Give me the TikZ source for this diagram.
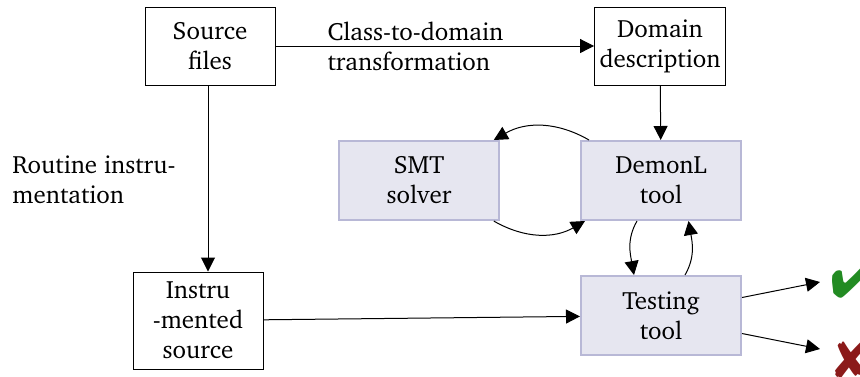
\documentclass[tikz,border=0pt]{standalone}
\usepackage[T1]{fontenc}
\usepackage{charter}
\usepackage{pifont}
\usetikzlibrary{arrows.meta}
\definecolor{boxfill}{RGB}{230,230,240}
\definecolor{boxline}{RGB}{184,184,214}
\definecolor{okgreen}{RGB}{34,139,34}
\definecolor{badred}{RGB}{139,26,26}
\begin{document}
\begin{tikzpicture}[x=0.4pt,y=-0.4pt,
  plain/.style={draw,line width=0.4pt,minimum width=52pt,minimum height=31.2pt,align=center,inner sep=2pt},
  tool/.style={draw=boxline,fill=boxfill,line width=0.8pt,minimum width=64pt,minimum height=31.6pt,align=center},
  flow/.style={-{Triangle[length=5.6pt,width=5.6pt]},line width=0.4pt},
  verdict/.style={inner sep=0pt,font=\fontsize{22}{22}\selectfont},
  note/.style={align=left,anchor=west,inner sep=0pt}]
\useasboundingbox (0,0) rectangle (860,376);

% boxes
\node[plain] (src) at (210,46) {Source\\files};
\node[plain] (dom) at (660,46) {Domain\\description};
\node[tool] (smt) at (419,180.5) {SMT\\solver};
\node[tool] (demon) at (661,180.5) {DemonL\\tool};
\node[tool] (test) at (661,315.5) {Testing\\tool};
\node[plain,minimum height=38.8pt] (instr) at (198,320.5) {Instru\\-mented\\source};

% verdict marks and the points the arrows reach
\node[verdict,text=okgreen] (ok) at (854,278) {\ding{52}};
\node[verdict,text=badred] (bad) at (852,359) {\ding{56}};
\coordinate (okin) at (820,282);
\coordinate (badin) at (820,349);

% edge labels
\node[note] (lclass) at (327,46) {Class-to-domain\\transformation};
\node[note] (lroutine) at (12,180) {Routine instru-\\mentation};

% straight connectors
\draw[flow] (src) -- (dom);
\draw[flow] (dom) -- (demon);
\draw[flow] (src.south -| 208,0) -- (instr.north -| 208,0);
\draw[flow] (instr) -- (test);

% loops between the tools
\draw[flow] ([xshift=3.6pt]demon.north west) to[out=150,in=30] ([xshift=-2.5pt]smt.north east);
\draw[flow] ([xshift=-2.5pt]smt.south east) to[out=-30,in=-150] ([xshift=2pt]demon.south west);
\draw[flow] ([xshift=-9.6pt]demon.south) to[out=-120,in=100] ([xshift=-10.8pt]test.north);
\draw[flow] ([xshift=9.6pt]test.north) to[out=60,in=-80] ([xshift=11pt]demon.south);

% verdict arrows
\draw[flow] ([yshift=7.2pt]test.east) -- (okin);
\draw[flow] ([yshift=-7.2pt]test.east) -- (badin);
\end{tikzpicture}
\end{document}
